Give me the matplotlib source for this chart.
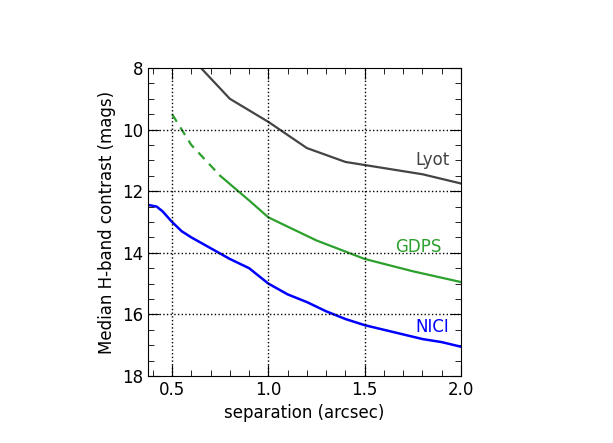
import matplotlib
matplotlib.use("Agg")
import matplotlib.pyplot as plt
from matplotlib.ticker import MultipleLocator

lyot_x = [0.65, 0.8, 1.0, 1.2, 1.4, 1.6, 1.8, 2.0]
lyot_y = [8.0, 9.0, 9.75, 10.6, 11.05, 11.25, 11.45, 11.75]
gdps_dash_x = [0.5, 0.6, 0.75]
gdps_dash_y = [9.5, 10.5, 11.5]
gdps_x = [0.75, 0.9, 1.0, 1.25, 1.5, 1.75, 2.0]
gdps_y = [11.5, 12.3, 12.85, 13.6, 14.2, 14.6, 14.95]
nici_x = [0.38, 0.42, 0.45, 0.5, 0.55, 0.6, 0.7, 0.8, 0.9, 1.0, 1.1, 1.2, 1.3, 1.4, 1.5, 1.6, 1.7, 1.8, 1.9, 2.0]
nici_y = [12.45, 12.5, 12.65, 13.0, 13.3, 13.5, 13.85, 14.2, 14.5, 15.0, 15.35, 15.6, 15.9, 16.15, 16.35, 16.5, 16.65, 16.8, 16.9, 17.05]

fig = plt.figure(figsize=(6.13, 4.43), dpi=100)
ax = fig.add_axes([148/613, 1-376/443, (461-148)/613, (376-68)/443])
ax.plot(lyot_x, lyot_y, color='#444444', lw=1.6)
ax.plot(gdps_dash_x, gdps_dash_y, color='#2ca02c', lw=1.6, ls=(0, (4, 3)))
ax.plot(gdps_x, gdps_y, color='#2ca02c', lw=1.6)
ax.plot(nici_x, nici_y, color='#0000ff', lw=1.8)
ax.set_xlim(0.375, 2.0)
ax.set_ylim(18, 8)
ax.set_xticks([0.5, 1.0, 1.5, 2.0])
ax.set_yticks([8, 10, 12, 14, 16, 18])
ax.xaxis.set_minor_locator(MultipleLocator(0.1))
ax.yaxis.set_minor_locator(MultipleLocator(0.5))
ax.tick_params(which='both', direction='in', top=True, right=True, labelsize=12)
ax.tick_params(which='major', length=8)
ax.tick_params(which='minor', length=4)
for v in [0.5, 1.0, 1.5]:
    ax.axvline(v, color='black', ls=':', lw=1)
for v in [10, 12, 14, 16]:
    ax.axhline(v, color='black', ls=':', lw=1)
ax.text(1.85, 11.0, 'Lyot', color='#444444', fontsize=12, ha='center', va='center')
ax.text(1.78, 13.8, 'GDPS', color='#2ca02c', fontsize=12, ha='center', va='center')
ax.text(1.85, 16.4, 'NICI', color='#0000ff', fontsize=12, ha='center', va='center')
ax.set_xlabel('separation (arcsec)', fontsize=12)
ax.set_ylabel('Median H-band contrast (mags)', fontsize=12)
fig.savefig('out.png', dpi=100)
